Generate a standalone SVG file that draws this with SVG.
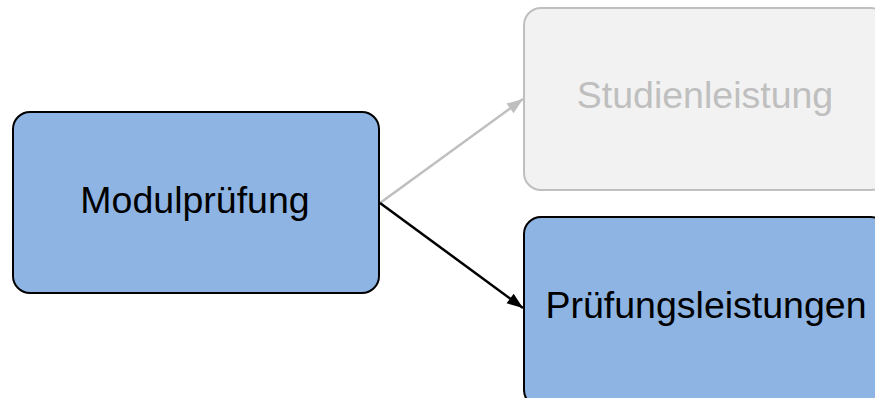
<svg xmlns="http://www.w3.org/2000/svg" width="875" height="398" viewBox="0 0 875 398">
  <style>
    .box { fill: #8EB4E3; stroke: #000; stroke-width: 2; }
    .dim { fill: #F2F2F2; stroke: #BFBFBF; stroke-width: 2; }
    .lbl { font-family: "Liberation Sans", Arial, sans-serif; font-size: 37.5px; text-anchor: middle; fill: #000; }
    .lbl-dim { fill: #BFBFBF; }
  </style>
  <defs>
    <marker id="ahBlack" markerWidth="16" markerHeight="12" refX="16" refY="6" markerUnits="userSpaceOnUse" orient="auto" overflow="visible">
      <path d="M0,0 L16,6 L0,12 Z" fill="#000"/>
    </marker>
    <marker id="ahGray" markerWidth="16" markerHeight="12" refX="16" refY="6" markerUnits="userSpaceOnUse" orient="auto" overflow="visible">
      <path d="M0,0 L16,6 L0,12 Z" fill="#BFBFBF"/>
    </marker>
  </defs>
  <rect width="875" height="398" fill="#fff"/>
  <g id="connectors">
    <line x1="380" y1="203" x2="523" y2="99" stroke="#BFBFBF" stroke-width="2.5" marker-end="url(#ahGray)"/>
    <line x1="380" y1="203" x2="523" y2="308" stroke="#000" stroke-width="2.5" marker-end="url(#ahBlack)"/>
  </g>
  <g id="node-modulpruefung">
    <rect class="box" x="13" y="112" width="366" height="181" rx="17" ry="17"/>
    <text class="lbl" x="195" y="213">Modulprüfung</text>
  </g>
  <g id="node-studienleistung">
    <rect class="dim" x="524" y="8" width="364" height="182" rx="17" ry="17"/>
    <text class="lbl lbl-dim" x="705" y="108">Studienleistung</text>
  </g>
  <g id="node-pruefungsleistungen">
    <rect class="box" x="524" y="217" width="364" height="190" rx="17" ry="17"/>
    <text class="lbl" x="706" y="318">Prüfungsleistungen</text>
  </g>
</svg>
